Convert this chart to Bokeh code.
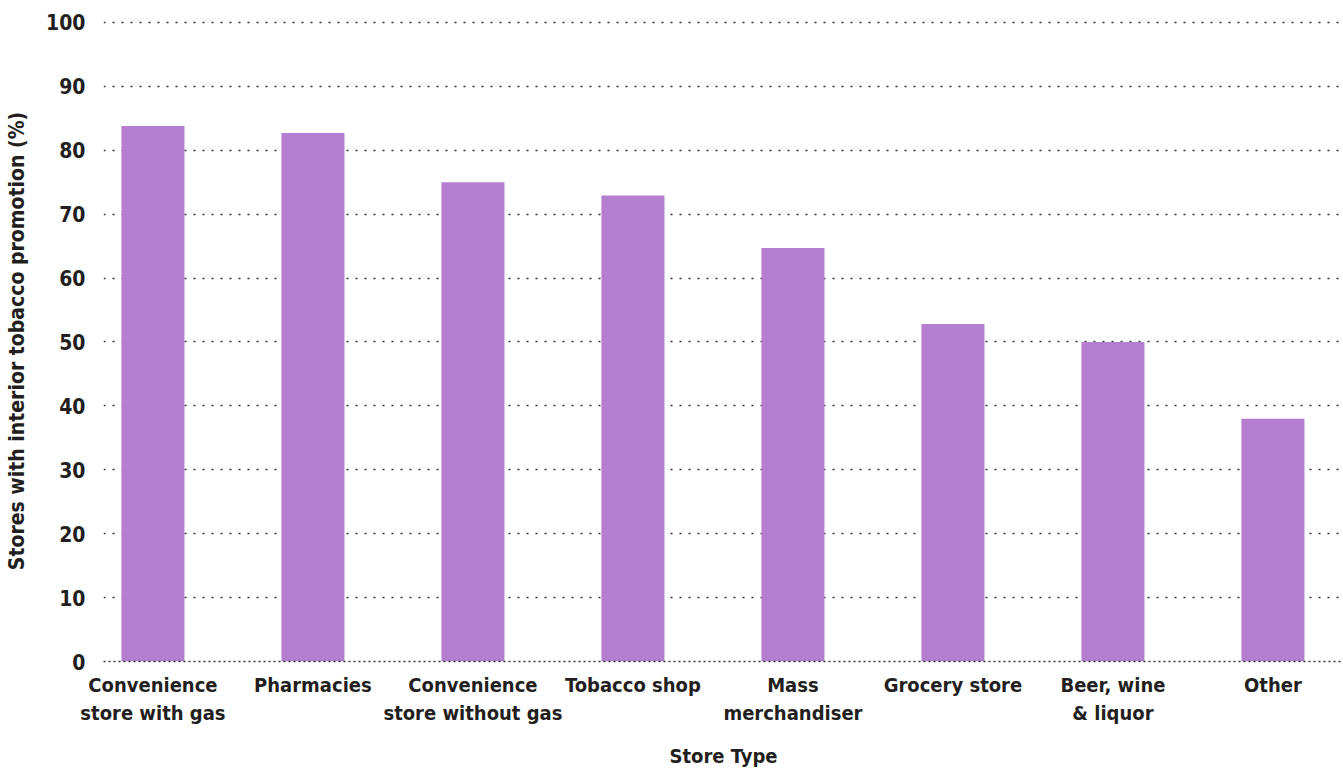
from bokeh.plotting import figure
from bokeh.models import FixedTicker, ColumnDataSource, Range1d
from bokeh.embed import file_html
from bokeh.resources import INLINE

categories = ["Convenience\nstore with gas", "Pharmacies", "Convenience\nstore without gas",
              "Tobacco shop", "Mass\nmerchandiser", "Grocery store", "Beer, wine\n& liquor", "Other"]
values = [83.8, 82.7, 75.0, 72.9, 64.7, 52.8, 50.0, 38.0]
y_ticks = [0, 10, 20, 30, 40, 50, 60, 70, 80, 90, 100]
x_title = "Store Type"
y_title = "Stores with interior tobacco promotion (%)"

FONT = "'DejaVu Sans Condensed', 'DejaVu Sans', sans-serif"
TXT = "#231f20"

xs = list(range(len(categories)))
src = ColumnDataSource(dict(x=xs, top=values))

p = figure(width=1343, height=771, output_backend="svg", toolbar_location=None,
           x_range=Range1d(-0.309, 7.441), y_range=Range1d(0, 100.3))
p.min_border_left = 103
p.min_border_right = 0
p.min_border_top = 20
p.min_border_bottom = 109
p.outline_line_color = None
p.background_fill_color = "white"
p.border_fill_color = "white"

p.vbar(x="x", top="top", width=0.394, bottom=0, source=src,
       fill_color="#b57fd1", line_color=None)

# y axis
p.yaxis.ticker = FixedTicker(ticks=y_ticks)
p.yaxis.axis_line_color = None
p.yaxis.major_tick_line_color = None
p.yaxis.minor_tick_line_color = None
p.yaxis.major_label_standoff = 12
p.yaxis.major_label_text_font = FONT
p.yaxis.major_label_text_font_size = "21px"
p.yaxis.major_label_text_font_style = "bold"
p.yaxis.major_label_text_color = TXT
p.yaxis.axis_label = y_title
p.yaxis.axis_label_text_font = FONT
p.yaxis.axis_label_text_font_size = "21px"
p.yaxis.axis_label_text_font_style = "bold"
p.yaxis.axis_label_text_color = TXT
p.yaxis.axis_label_standoff = 14

# x axis
p.xaxis.ticker = FixedTicker(ticks=xs)
p.xaxis.major_label_overrides = {i: c for i, c in enumerate(categories)}
p.xaxis.axis_line_color = "#333333"
p.xaxis.axis_line_dash = "2 3"
p.xaxis.axis_line_width = 1.5
p.xaxis.major_tick_line_color = None
p.xaxis.minor_tick_line_color = None
p.xaxis.major_label_standoff = 5
p.xaxis.major_label_text_font = FONT
p.xaxis.major_label_text_font_size = "20px"
p.xaxis.major_label_text_font_style = "bold"
p.xaxis.major_label_text_line_height = 1.2
p.xaxis.major_label_text_color = TXT
p.xaxis.axis_label = x_title
p.xaxis.axis_label_text_font = FONT
p.xaxis.axis_label_text_font_size = "20px"
p.xaxis.axis_label_text_font_style = "bold"
p.xaxis.axis_label_text_line_height = 1.0
p.xaxis.axis_label_text_color = TXT
p.xaxis.axis_label_standoff = 16

p.xgrid.grid_line_color = None
p.ygrid.ticker = FixedTicker(ticks=y_ticks)
p.ygrid.grid_line_color = "#333333"
p.ygrid.grid_line_dash = "2 7"
p.ygrid.grid_line_width = 1.5

open("out.html", "w").write(file_html(p, INLINE))
